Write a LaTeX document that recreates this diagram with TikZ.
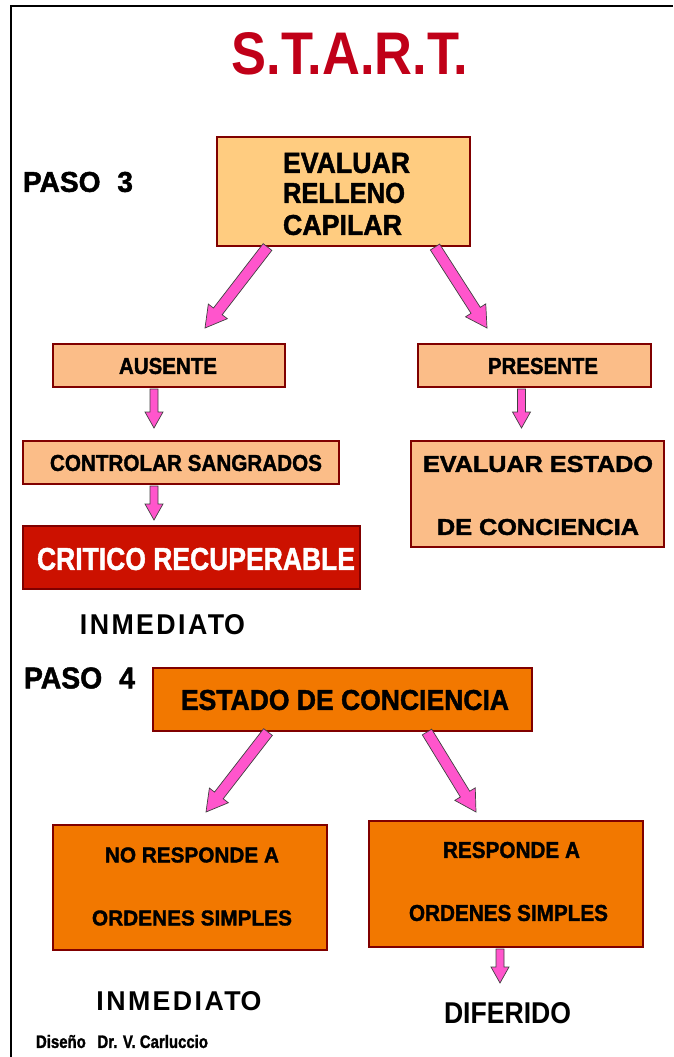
\documentclass[tikz,border=0pt]{standalone}
\usepackage{fontspec}
\setmainfont{Liberation Sans}
\usetikzlibrary{calc}
\definecolor{titlered}{HTML}{C00018}
\definecolor{boxline}{HTML}{800000}
\definecolor{lightor}{HTML}{FFCC80}
\definecolor{salmon}{HTML}{FBBD88}
\definecolor{deeporange}{HTML}{F27800}
\definecolor{critred}{HTML}{CC1100}
\definecolor{pinkfill}{HTML}{FF55CC}
\definecolor{arrowline}{HTML}{404040}
\newcommand\fitt[3]{\resizebox{#1pt}{#2pt}{\bfseries #3}}
\newcommand\fith[3]{\resizebox{#1pt}{#2pt}{\bfseries\addfontfeature{FakeBold=1.6}#3}}
% start, end, half shaft, half head, head length
\newcommand\pinkarrow[5]{%
  \path ($(#2)!#5!(#1)$) coordinate (neck);
  \draw[parrow] ($(#1)!#3!90:(#2)$) -- ($(neck)!#3!90:(#2)$) -- ($(neck)!#4!90:(#2)$) -- (#2)
     -- ($(neck)!#4!-90:(#2)$) -- ($(neck)!#3!-90:(#2)$) -- ($(#1)!#3!-90:(#2)$) -- cycle;}
\tikzset{
  parrow/.style={fill=pinkfill, draw=arrowline, line width=0.7pt, line join=miter},
  boxbase/.style={rectangle, draw=boxline, line width=2pt, inner sep=0pt},
  txt/.style={inner sep=0pt, outer sep=0pt}
}
\begin{document}
\begin{tikzpicture}[x=1pt,y=-1pt]
\useasboundingbox (0,0) rectangle (673,1057);
% frame
\draw[line width=2.5pt] (11,1057) -- (11,6) -- (673,6);

% boxes
\node[boxbase, fill=lightor, minimum width=253pt, minimum height=109pt] (b1) at (343.5,191.5) {};
\node[boxbase, fill=salmon, minimum width=232pt, minimum height=43pt] (aus) at (169,365.5) {};
\node[boxbase, fill=salmon, minimum width=233pt, minimum height=43pt] (pre) at (534.5,365.5) {};
\node[boxbase, fill=salmon, minimum width=316pt, minimum height=43pt] (ctl) at (181,462.5) {};
\node[boxbase, fill=critred, minimum width=337pt, minimum height=63pt] (crit) at (191.5,557.5) {};
\node[boxbase, fill=salmon, minimum width=253pt, minimum height=106pt] (eva) at (537.5,494) {};
\node[boxbase, fill=deeporange, minimum width=379pt, minimum height=63pt] (est) at (342.5,699.5) {};
\node[boxbase, fill=deeporange, minimum width=274pt, minimum height=125pt] (nor) at (190,887.5) {};
\node[boxbase, fill=deeporange, minimum width=274pt, minimum height=126pt] (res) at (506,884) {};

% arrow end coordinates
\coordinate (a1s) at ($(b1.south)+(-76,0)$);
\coordinate (a1e) at (205,328);
\coordinate (a2s) at ($(b1.south)+(91.5,0)$);
\coordinate (a2e) at (487,328);
\coordinate (a3s) at ($(aus.south)+(-15,1)$);
\coordinate (a3e) at (154,428);
\coordinate (a4s) at ($(pre.south)+(-13,1)$);
\coordinate (a4e) at (521.5,428);
\coordinate (a5s) at ($(ctl.south)+(-27,1)$);
\coordinate (a5e) at (154,520);
\coordinate (a6s) at ($(est.south)+(-74.5,0)$);
\coordinate (a6e) at (206,812);
\coordinate (a7s) at ($(est.south)+(84.5,0)$);
\coordinate (a7e) at (476,812);
\coordinate (a8s) at ($(res.south)+(-6,1)$);
\coordinate (a8e) at (500,983);

\pinkarrow{a1s}{a1e}{5.5pt}{12pt}{21pt}
\pinkarrow{a2s}{a2e}{5.5pt}{12pt}{21pt}
\pinkarrow{a6s}{a6e}{5.5pt}{12pt}{21pt}
\pinkarrow{a7s}{a7e}{5.5pt}{12pt}{21pt}
\pinkarrow{a3s}{a3e}{4pt}{9pt}{16pt}
\pinkarrow{a4s}{a4e}{4pt}{9pt}{16pt}
\pinkarrow{a5s}{a5e}{4pt}{9pt}{16pt}
\pinkarrow{a8s}{a8e}{4pt}{9pt}{16pt}

% texts
\node[txt] (title) at (350,54) {\color{titlered}\fitt{236}{42}{S.T.A.R.T.}};
\node[txt] (paso3) at (78,182) {\fith{110}{20}{PASO\hspace{0.6em}3}};
\node[txt, anchor=west] (t1a) at (283,163) {\fith{127}{20}{EVALUAR}};
\node[txt, anchor=west] (t1b) at (283,193) {\fith{122}{20}{RELLENO}};
\node[txt, anchor=west] (t1c) at (283,225) {\fith{119}{20}{CAPILAR}};
\node[txt] (taus) at (168,366) {\fith{98}{16}{AUSENTE}};
\node[txt] (tpre) at (543,366) {\fith{110}{16}{PRESENTE}};
\node[txt] (tctl) at (186,463) {\fith{272}{16}{CONTROLAR SANGRADOS}};
\node[txt] (tcrit) at (196,559) {\color{white}\fith{318}{22}{CRITICO RECUPERABLE}};
\node[txt] (teva1) at (538,464) {\fith{230}{16}{EVALUAR ESTADO}};
\node[txt] (teva2) at (538,527) {\fith{202}{16}{DE CONCIENCIA}};
\node[txt] (inm1) at (162.5,625) {\fitt{165}{20}{\addfontfeature{LetterSpace=9}INMEDIAT\addfontfeature{LetterSpace=0}O}};
\node[txt] (paso4) at (79.5,678) {\fith{111}{21}{PASO\hspace{0.6em}4}};
\node[txt] (test) at (345,700) {\fith{328}{20}{ESTADO DE CONCIENCIA}};
\node[txt] (tnor1) at (192,855) {\fith{174}{15}{NO RESPONDE A}};
\node[txt] (tnor2) at (192,918) {\fith{200}{15}{ORDENES SIMPLES}};
\node[txt] (tres1) at (511.5,850) {\fith{137}{16}{RESPONDE A}};
\node[txt] (tres2) at (508.5,913) {\fith{199}{16}{ORDENES SIMPLES}};
\node[txt] (inm2) at (179,1001) {\fitt{165}{19}{\addfontfeature{LetterSpace=9}INMEDIAT\addfontfeature{LetterSpace=0}O}};
\node[txt] (dif) at (507.5,1013.5) {\fitt{127}{21}{DIFERIDO}};
\node[txt] (dis) at (122,1041.5) {\fith{172}{13}{Diseño\hspace{0.5em} Dr. V. Carluccio}};
\end{tikzpicture}
\end{document}
